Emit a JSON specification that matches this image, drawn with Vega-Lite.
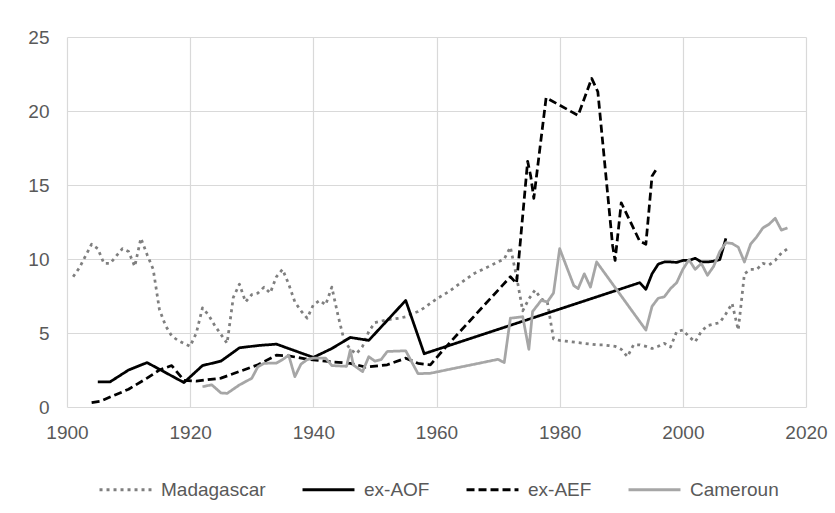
{
  "$schema": "https://vega.github.io/schema/vega-lite/v6.json",
  "width": 739,
  "height": 370,
  "autosize": {"type": "none"},
  "padding": {"left": 67, "top": 37, "right": 29, "bottom": 106},
  "background": "white",
  "config": {
    "view": {"stroke": null},
    "font": "Liberation Sans",
    "legend": {
      "orient": "none",
      "legendX": 31,
      "legendY": 425,
      "direction": "horizontal",
      "symbolType": "stroke",
      "symbolSize": 2700,
      "symbolStrokeWidth": 3,
      "labelFontSize": 19,
      "labelColor": "#595959",
      "labelOffset": 8,
      "columnPadding": 30,
      "title": null
    }
  },
  "datasets": {
    "d": [
      {"series": "Madagascar", "year": 1901, "value": 8.8},
      {"series": "Madagascar", "year": 1902, "value": 9.4},
      {"series": "Madagascar", "year": 1903, "value": 10.2},
      {"series": "Madagascar", "year": 1904, "value": 11.0},
      {"series": "Madagascar", "year": 1905, "value": 10.7},
      {"series": "Madagascar", "year": 1906, "value": 9.7},
      {"series": "Madagascar", "year": 1907, "value": 9.7},
      {"series": "Madagascar", "year": 1908, "value": 10.2},
      {"series": "Madagascar", "year": 1909, "value": 10.7},
      {"series": "Madagascar", "year": 1910, "value": 10.5},
      {"series": "Madagascar", "year": 1911, "value": 9.5},
      {"series": "Madagascar", "year": 1912, "value": 11.4},
      {"series": "Madagascar", "year": 1913, "value": 10.3},
      {"series": "Madagascar", "year": 1914, "value": 9.3},
      {"series": "Madagascar", "year": 1915, "value": 6.6},
      {"series": "Madagascar", "year": 1916, "value": 5.5},
      {"series": "Madagascar", "year": 1917, "value": 4.8},
      {"series": "Madagascar", "year": 1918, "value": 4.5},
      {"series": "Madagascar", "year": 1919, "value": 4.3},
      {"series": "Madagascar", "year": 1920, "value": 4.1},
      {"series": "Madagascar", "year": 1921, "value": 5.0},
      {"series": "Madagascar", "year": 1922, "value": 6.7},
      {"series": "Madagascar", "year": 1923, "value": 6.2},
      {"series": "Madagascar", "year": 1924, "value": 5.5},
      {"series": "Madagascar", "year": 1925, "value": 4.9},
      {"series": "Madagascar", "year": 1926, "value": 4.3},
      {"series": "Madagascar", "year": 1927, "value": 7.4},
      {"series": "Madagascar", "year": 1928, "value": 8.3},
      {"series": "Madagascar", "year": 1929, "value": 7.1},
      {"series": "Madagascar", "year": 1930, "value": 7.6},
      {"series": "Madagascar", "year": 1931, "value": 7.7},
      {"series": "Madagascar", "year": 1932, "value": 8.1},
      {"series": "Madagascar", "year": 1933, "value": 7.7},
      {"series": "Madagascar", "year": 1934, "value": 8.8},
      {"series": "Madagascar", "year": 1935, "value": 9.3},
      {"series": "Madagascar", "year": 1936, "value": 8.3},
      {"series": "Madagascar", "year": 1937, "value": 7.1},
      {"series": "Madagascar", "year": 1938, "value": 6.5},
      {"series": "Madagascar", "year": 1939, "value": 6.0},
      {"series": "Madagascar", "year": 1940, "value": 6.9},
      {"series": "Madagascar", "year": 1941, "value": 7.2},
      {"series": "Madagascar", "year": 1942, "value": 6.9},
      {"series": "Madagascar", "year": 1943, "value": 8.1},
      {"series": "Madagascar", "year": 1944, "value": 6.2},
      {"series": "Madagascar", "year": 1945, "value": 4.5},
      {"series": "Madagascar", "year": 1946, "value": 3.9},
      {"series": "Madagascar", "year": 1947, "value": 3.6},
      {"series": "Madagascar", "year": 1948, "value": 4.1},
      {"series": "Madagascar", "year": 1949, "value": 5.1},
      {"series": "Madagascar", "year": 1950, "value": 5.7},
      {"series": "Madagascar", "year": 1951, "value": 5.8},
      {"series": "Madagascar", "year": 1952, "value": 5.9},
      {"series": "Madagascar", "year": 1953, "value": 5.95},
      {"series": "Madagascar", "year": 1954, "value": 6.0},
      {"series": "Madagascar", "year": 1955, "value": 6.1},
      {"series": "Madagascar", "year": 1956, "value": 6.3},
      {"series": "Madagascar", "year": 1957, "value": 6.45},
      {"series": "Madagascar", "year": 1958, "value": 6.7},
      {"series": "Madagascar", "year": 1959, "value": 7.0},
      {"series": "Madagascar", "year": 1960, "value": 7.3},
      {"series": "Madagascar", "year": 1961, "value": 7.55},
      {"series": "Madagascar", "year": 1962, "value": 7.8},
      {"series": "Madagascar", "year": 1963, "value": 8.1},
      {"series": "Madagascar", "year": 1964, "value": 8.4},
      {"series": "Madagascar", "year": 1965, "value": 8.7},
      {"series": "Madagascar", "year": 1966, "value": 9.0},
      {"series": "Madagascar", "year": 1967, "value": 9.2},
      {"series": "Madagascar", "year": 1968, "value": 9.4},
      {"series": "Madagascar", "year": 1969, "value": 9.6},
      {"series": "Madagascar", "year": 1970, "value": 9.8},
      {"series": "Madagascar", "year": 1971, "value": 10.0},
      {"series": "Madagascar", "year": 1972, "value": 10.8},
      {"series": "Madagascar", "year": 1973, "value": 8.8},
      {"series": "Madagascar", "year": 1974, "value": 6.5},
      {"series": "Madagascar", "year": 1975, "value": 7.3},
      {"series": "Madagascar", "year": 1976, "value": 7.9},
      {"series": "Madagascar", "year": 1977, "value": 7.3},
      {"series": "Madagascar", "year": 1978, "value": 7.1},
      {"series": "Madagascar", "year": 1979, "value": 4.6},
      {"series": "Madagascar", "year": 1980, "value": 4.5},
      {"series": "Madagascar", "year": 1981, "value": 4.45},
      {"series": "Madagascar", "year": 1982, "value": 4.4},
      {"series": "Madagascar", "year": 1983, "value": 4.35},
      {"series": "Madagascar", "year": 1984, "value": 4.3},
      {"series": "Madagascar", "year": 1985, "value": 4.25},
      {"series": "Madagascar", "year": 1986, "value": 4.2},
      {"series": "Madagascar", "year": 1987, "value": 4.2},
      {"series": "Madagascar", "year": 1988, "value": 4.15},
      {"series": "Madagascar", "year": 1989, "value": 4.1},
      {"series": "Madagascar", "year": 1990, "value": 3.9},
      {"series": "Madagascar", "year": 1991, "value": 3.4},
      {"series": "Madagascar", "year": 1992, "value": 4.2},
      {"series": "Madagascar", "year": 1993, "value": 4.2},
      {"series": "Madagascar", "year": 1994, "value": 4.1},
      {"series": "Madagascar", "year": 1995, "value": 3.95},
      {"series": "Madagascar", "year": 1996, "value": 4.1},
      {"series": "Madagascar", "year": 1997, "value": 4.3},
      {"series": "Madagascar", "year": 1998, "value": 4.05},
      {"series": "Madagascar", "year": 1999, "value": 5.1},
      {"series": "Madagascar", "year": 2000, "value": 5.2},
      {"series": "Madagascar", "year": 2001, "value": 4.75},
      {"series": "Madagascar", "year": 2002, "value": 4.4},
      {"series": "Madagascar", "year": 2003, "value": 5.1},
      {"series": "Madagascar", "year": 2004, "value": 5.5},
      {"series": "Madagascar", "year": 2005, "value": 5.6},
      {"series": "Madagascar", "year": 2006, "value": 5.7},
      {"series": "Madagascar", "year": 2007, "value": 6.3},
      {"series": "Madagascar", "year": 2008, "value": 7.0},
      {"series": "Madagascar", "year": 2009, "value": 5.2},
      {"series": "Madagascar", "year": 2010, "value": 9.0},
      {"series": "Madagascar", "year": 2011, "value": 9.3},
      {"series": "Madagascar", "year": 2012, "value": 9.3},
      {"series": "Madagascar", "year": 2013, "value": 9.7},
      {"series": "Madagascar", "year": 2014, "value": 9.6},
      {"series": "Madagascar", "year": 2015, "value": 9.9},
      {"series": "Madagascar", "year": 2016, "value": 10.4},
      {"series": "Madagascar", "year": 2017, "value": 10.7},

      {"series": "ex-AOF", "year": 1905, "value": 1.7},
      {"series": "ex-AOF", "year": 1907, "value": 1.7},
      {"series": "ex-AOF", "year": 1910, "value": 2.5},
      {"series": "ex-AOF", "year": 1913, "value": 3.0},
      {"series": "ex-AOF", "year": 1919, "value": 1.65},
      {"series": "ex-AOF", "year": 1922, "value": 2.8},
      {"series": "ex-AOF", "year": 1925, "value": 3.1},
      {"series": "ex-AOF", "year": 1928, "value": 4.0},
      {"series": "ex-AOF", "year": 1931, "value": 4.15},
      {"series": "ex-AOF", "year": 1934, "value": 4.25},
      {"series": "ex-AOF", "year": 1937, "value": 3.8},
      {"series": "ex-AOF", "year": 1940, "value": 3.35},
      {"series": "ex-AOF", "year": 1943, "value": 3.95},
      {"series": "ex-AOF", "year": 1946, "value": 4.7},
      {"series": "ex-AOF", "year": 1949, "value": 4.5},
      {"series": "ex-AOF", "year": 1955, "value": 7.2},
      {"series": "ex-AOF", "year": 1958, "value": 3.6},
      {"series": "ex-AOF", "year": 1993, "value": 8.4},
      {"series": "ex-AOF", "year": 1994, "value": 7.95},
      {"series": "ex-AOF", "year": 1995, "value": 9.0},
      {"series": "ex-AOF", "year": 1996, "value": 9.65},
      {"series": "ex-AOF", "year": 1997, "value": 9.8},
      {"series": "ex-AOF", "year": 1998, "value": 9.8},
      {"series": "ex-AOF", "year": 1999, "value": 9.77},
      {"series": "ex-AOF", "year": 2000, "value": 9.9},
      {"series": "ex-AOF", "year": 2001, "value": 9.9},
      {"series": "ex-AOF", "year": 2002, "value": 10.05},
      {"series": "ex-AOF", "year": 2003, "value": 9.8},
      {"series": "ex-AOF", "year": 2004, "value": 9.8},
      {"series": "ex-AOF", "year": 2005, "value": 9.85},
      {"series": "ex-AOF", "year": 2006, "value": 9.95},
      {"series": "ex-AOF", "year": 2007, "value": 11.4},

      {"series": "ex-AEF", "year": 1904, "value": 0.3},
      {"series": "ex-AEF", "year": 1905.5, "value": 0.4},
      {"series": "ex-AEF", "year": 1908, "value": 0.85},
      {"series": "ex-AEF", "year": 1910, "value": 1.2},
      {"series": "ex-AEF", "year": 1913, "value": 1.95},
      {"series": "ex-AEF", "year": 1915, "value": 2.5},
      {"series": "ex-AEF", "year": 1917, "value": 2.8},
      {"series": "ex-AEF", "year": 1919, "value": 1.8},
      {"series": "ex-AEF", "year": 1921, "value": 1.75},
      {"series": "ex-AEF", "year": 1925, "value": 1.95},
      {"series": "ex-AEF", "year": 1928, "value": 2.4},
      {"series": "ex-AEF", "year": 1931, "value": 2.85},
      {"series": "ex-AEF", "year": 1934, "value": 3.5},
      {"series": "ex-AEF", "year": 1936, "value": 3.45},
      {"series": "ex-AEF", "year": 1939.5, "value": 3.2},
      {"series": "ex-AEF", "year": 1943, "value": 3.05},
      {"series": "ex-AEF", "year": 1946, "value": 2.95},
      {"series": "ex-AEF", "year": 1948.5, "value": 2.7},
      {"series": "ex-AEF", "year": 1952, "value": 2.85},
      {"series": "ex-AEF", "year": 1955, "value": 3.3},
      {"series": "ex-AEF", "year": 1957, "value": 2.95},
      {"series": "ex-AEF", "year": 1959, "value": 2.85},
      {"series": "ex-AEF", "year": 1961.5, "value": 4.05},
      {"series": "ex-AEF", "year": 1972, "value": 8.8},
      {"series": "ex-AEF", "year": 1973, "value": 8.35},
      {"series": "ex-AEF", "year": 1974.8, "value": 16.6},
      {"series": "ex-AEF", "year": 1975.3, "value": 15.6},
      {"series": "ex-AEF", "year": 1975.8, "value": 14.1},
      {"series": "ex-AEF", "year": 1977.8, "value": 20.9},
      {"series": "ex-AEF", "year": 1983, "value": 19.7},
      {"series": "ex-AEF", "year": 1985.2, "value": 22.2},
      {"series": "ex-AEF", "year": 1986.2, "value": 21.3},
      {"series": "ex-AEF", "year": 1988.6, "value": 10.9},
      {"series": "ex-AEF", "year": 1989, "value": 9.9},
      {"series": "ex-AEF", "year": 1990, "value": 13.8},
      {"series": "ex-AEF", "year": 1993, "value": 11.2},
      {"series": "ex-AEF", "year": 1994, "value": 11.0},
      {"series": "ex-AEF", "year": 1995, "value": 15.6},
      {"series": "ex-AEF", "year": 1995.6, "value": 16.0},

      {"series": "Cameroun", "year": 1922, "value": 1.37},
      {"series": "Cameroun", "year": 1923.5, "value": 1.5},
      {"series": "Cameroun", "year": 1925, "value": 0.95},
      {"series": "Cameroun", "year": 1926, "value": 0.92},
      {"series": "Cameroun", "year": 1928, "value": 1.49},
      {"series": "Cameroun", "year": 1930, "value": 1.94},
      {"series": "Cameroun", "year": 1931, "value": 2.72},
      {"series": "Cameroun", "year": 1932, "value": 2.95},
      {"series": "Cameroun", "year": 1934, "value": 2.97},
      {"series": "Cameroun", "year": 1935, "value": 3.2},
      {"series": "Cameroun", "year": 1936, "value": 3.5},
      {"series": "Cameroun", "year": 1937, "value": 2.05},
      {"series": "Cameroun", "year": 1938, "value": 2.9},
      {"series": "Cameroun", "year": 1939, "value": 3.2},
      {"series": "Cameroun", "year": 1940, "value": 3.3},
      {"series": "Cameroun", "year": 1942, "value": 3.3},
      {"series": "Cameroun", "year": 1943, "value": 2.8},
      {"series": "Cameroun", "year": 1945.4, "value": 2.75},
      {"series": "Cameroun", "year": 1946, "value": 3.85},
      {"series": "Cameroun", "year": 1946.5, "value": 2.84},
      {"series": "Cameroun", "year": 1948, "value": 2.39},
      {"series": "Cameroun", "year": 1949, "value": 3.4},
      {"series": "Cameroun", "year": 1950, "value": 3.1},
      {"series": "Cameroun", "year": 1951, "value": 3.2},
      {"series": "Cameroun", "year": 1952, "value": 3.75},
      {"series": "Cameroun", "year": 1955, "value": 3.8},
      {"series": "Cameroun", "year": 1957, "value": 2.25},
      {"series": "Cameroun", "year": 1959, "value": 2.28},
      {"series": "Cameroun", "year": 1970, "value": 3.22},
      {"series": "Cameroun", "year": 1971, "value": 3.0},
      {"series": "Cameroun", "year": 1972, "value": 6.0},
      {"series": "Cameroun", "year": 1974, "value": 6.1},
      {"series": "Cameroun", "year": 1975, "value": 3.9},
      {"series": "Cameroun", "year": 1975.6, "value": 6.45},
      {"series": "Cameroun", "year": 1977, "value": 7.2},
      {"series": "Cameroun", "year": 1978, "value": 7.1},
      {"series": "Cameroun", "year": 1979, "value": 7.7},
      {"series": "Cameroun", "year": 1980, "value": 10.7},
      {"series": "Cameroun", "year": 1982.3, "value": 8.2},
      {"series": "Cameroun", "year": 1983, "value": 8.0},
      {"series": "Cameroun", "year": 1984, "value": 9.0},
      {"series": "Cameroun", "year": 1985, "value": 8.1},
      {"series": "Cameroun", "year": 1986, "value": 9.8},
      {"series": "Cameroun", "year": 1994, "value": 5.2},
      {"series": "Cameroun", "year": 1995, "value": 6.8},
      {"series": "Cameroun", "year": 1996, "value": 7.35},
      {"series": "Cameroun", "year": 1997, "value": 7.45},
      {"series": "Cameroun", "year": 1998, "value": 8.0},
      {"series": "Cameroun", "year": 1999, "value": 8.4},
      {"series": "Cameroun", "year": 2000, "value": 9.3},
      {"series": "Cameroun", "year": 2001, "value": 9.95},
      {"series": "Cameroun", "year": 2002, "value": 9.3},
      {"series": "Cameroun", "year": 2003, "value": 9.7},
      {"series": "Cameroun", "year": 2004, "value": 8.9},
      {"series": "Cameroun", "year": 2005, "value": 9.5},
      {"series": "Cameroun", "year": 2006, "value": 10.5},
      {"series": "Cameroun", "year": 2007, "value": 11.1},
      {"series": "Cameroun", "year": 2008, "value": 11.05},
      {"series": "Cameroun", "year": 2009, "value": 10.8},
      {"series": "Cameroun", "year": 2010, "value": 9.8},
      {"series": "Cameroun", "year": 2011, "value": 11.0},
      {"series": "Cameroun", "year": 2012, "value": 11.5},
      {"series": "Cameroun", "year": 2013, "value": 12.1},
      {"series": "Cameroun", "year": 2014, "value": 12.35},
      {"series": "Cameroun", "year": 2015, "value": 12.75},
      {"series": "Cameroun", "year": 2016, "value": 11.95},
      {"series": "Cameroun", "year": 2017, "value": 12.1}
    ]
  },
  "data": {"name": "d"},
  "mark": {"type": "line", "strokeWidth": 2.75, "strokeCap": "butt", "strokeJoin": "round"},
  "encoding": {
    "x": {
      "field": "year",
      "type": "quantitative",
      "scale": {"domain": [1900, 2020], "nice": false, "zero": false},
      "axis": {
        "values": [1900, 1920, 1940, 1960, 1980, 2000, 2020],
        "format": "d",
        "title": null,
        "grid": true,
        "gridColor": "#d9d9d9",
        "gridWidth": 1.2,
        "domain": false,
        "ticks": false,
        "labelFontSize": 19,
        "labelColor": "#595959",
        "labelPadding": 16,
        "labelFlush": false
      }
    },
    "y": {
      "field": "value",
      "type": "quantitative",
      "scale": {"domain": [0, 25], "nice": false},
      "axis": {
        "values": [0, 5, 10, 15, 20, 25],
        "title": null,
        "grid": true,
        "gridColor": "#d9d9d9",
        "gridWidth": 1.2,
        "domain": false,
        "ticks": false,
        "labelFontSize": 19,
        "labelColor": "#595959",
        "labelPadding": 18,
        "labelFlush": false
      }
    },
    "color": {
      "field": "series",
      "type": "nominal",
      "scale": {"domain": ["Madagascar", "ex-AOF", "ex-AEF", "Cameroun"], "range": ["#7f7f7f", "#000000", "#000000", "#a6a6a6"]},
      "legend": {"title": null}
    },
    "strokeDash": {
      "field": "series",
      "type": "nominal",
      "scale": {"domain": ["Madagascar", "ex-AOF", "ex-AEF", "Cameroun"], "range": [[3, 4], [1, 0], [8, 4], [1, 0]]},
      "legend": {"title": null}
    }
  }
}
